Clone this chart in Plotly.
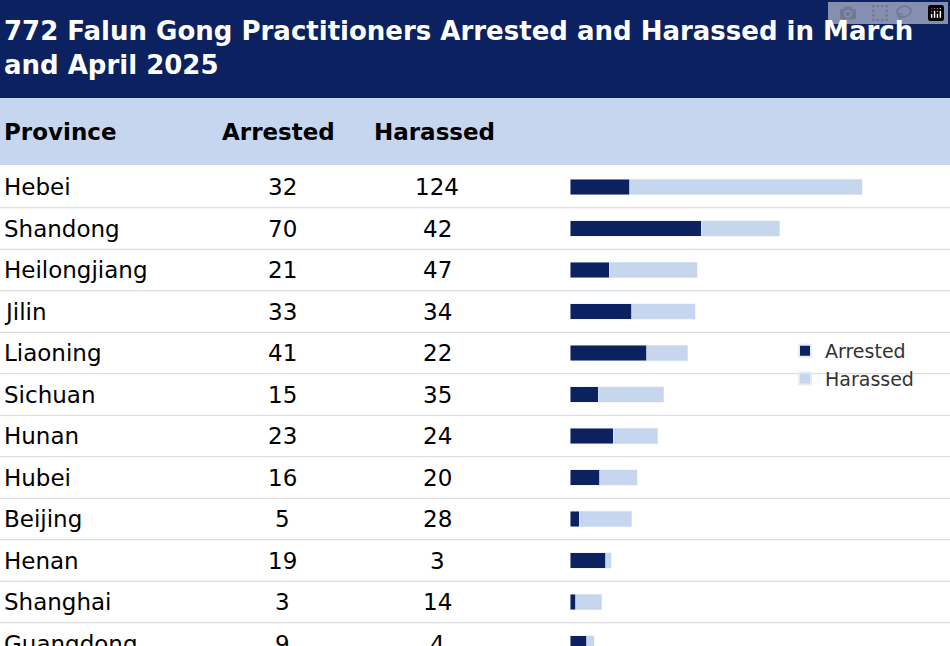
import plotly.graph_objects as go

provinces = ["Hebei", "Shandong", "Heilongjiang", "Jilin", "Liaoning", "Sichuan",
             "Hunan", "Hubei", "Beijing", "Henan", "Shanghai", "Guangdong"]
arrested = [32, 70, 21, 33, 41, 15, 23, 16, 5, 19, 3, 9]
harassed = [124, 42, 47, 34, 22, 35, 24, 20, 28, 3, 14, 4]
title = "772 Falun Gong Practitioners Arrested and Harassed in March<br>and April 2025"
headers = ["Province", "Arrested", "Harassed"]

NAVY = "#0b2160"
LIGHT = "#c6d6ee"
FONT = "DejaVu Sans"

W, H = 950, 646
X0, SX = 570, 1.872      # bar zero pixel, pixels per unit
Y0, ROW = 187, 41.5      # first row centre pixel, row height


def px_x(p):
    return (p - X0) / SX


def px_y(p):
    return (p - Y0) / ROW


rows = list(range(len(provinces)))

fig = go.Figure()
fig.add_trace(go.Bar(y=rows, x=arrested, orientation="h", name="Arrested",
                     marker_color=NAVY, width=0.38))
fig.add_trace(go.Bar(y=rows, x=harassed, orientation="h", name="Harassed",
                     marker_color=LIGHT, width=0.38))

shapes = [
    dict(type="rect", xref="paper", yref="paper", x0=0, x1=1, y0=1 - 98 / H, y1=1,
         fillcolor=NAVY, line_width=0, layer="below"),
    dict(type="rect", xref="paper", yref="paper", x0=0, x1=1, y0=1 - 165 / H, y1=1 - 98 / H,
         fillcolor=LIGHT, line_width=0, layer="below"),
]
for i in rows:
    shapes.append(dict(type="line", xref="paper", yref="y", x0=0, x1=1,
                       y0=i + 0.5, y1=i + 0.5, line=dict(color="#d4d4d4", width=1)))

ann = [dict(text="<b>" + title + "</b>", xref="paper", yref="paper", x=2 / W, y=1 - 14 / H,
            xanchor="left", yanchor="top", showarrow=False, align="left",
            font=dict(family=FONT, size=26, color="white"))]
for h, p, anc in zip(headers, [2, 278, 434], ["left", "center", "center"]):
    ann.append(dict(text="<b>" + h + "</b>", x=px_x(p), y=px_y(132), xref="x", yref="y",
                    xanchor=anc, showarrow=False, font=dict(family=FONT, size=23, color="black")))
for i, (pr, a, h) in enumerate(zip(provinces, arrested, harassed)):
    ann.append(dict(text=pr, x=px_x(2), y=i, xref="x", yref="y", xanchor="left",
                    showarrow=False, font=dict(family=FONT, size=23, color="black")))
    ann.append(dict(text=str(a), x=px_x(282), y=i, xref="x", yref="y", xanchor="center",
                    showarrow=False, font=dict(family=FONT, size=23, color="black")))
    ann.append(dict(text=str(h), x=px_x(437), y=i, xref="x", yref="y", xanchor="center",
                    showarrow=False, font=dict(family=FONT, size=23, color="black")))

fig.update_layout(
    width=W, height=H, barmode="stack", margin=dict(l=0, r=0, t=0, b=0),
    paper_bgcolor="white", plot_bgcolor="white", shapes=shapes, annotations=ann,
    showlegend=True,
    legend=dict(x=785 / W, y=1 - 332 / H, xanchor="left", yanchor="top",
                traceorder="normal", tracegroupgap=14,
                font=dict(family=FONT, size=19, color="#333"),
                itemsizing="constant", bgcolor="rgba(0,0,0,0)"),
    xaxis=dict(range=[px_x(0), px_x(W)], visible=False, fixedrange=True),
    yaxis=dict(range=[px_y(H), px_y(0)], visible=False, fixedrange=True),
)
fig.write_html("out.html", post_script="document.body.style.margin='0';")
